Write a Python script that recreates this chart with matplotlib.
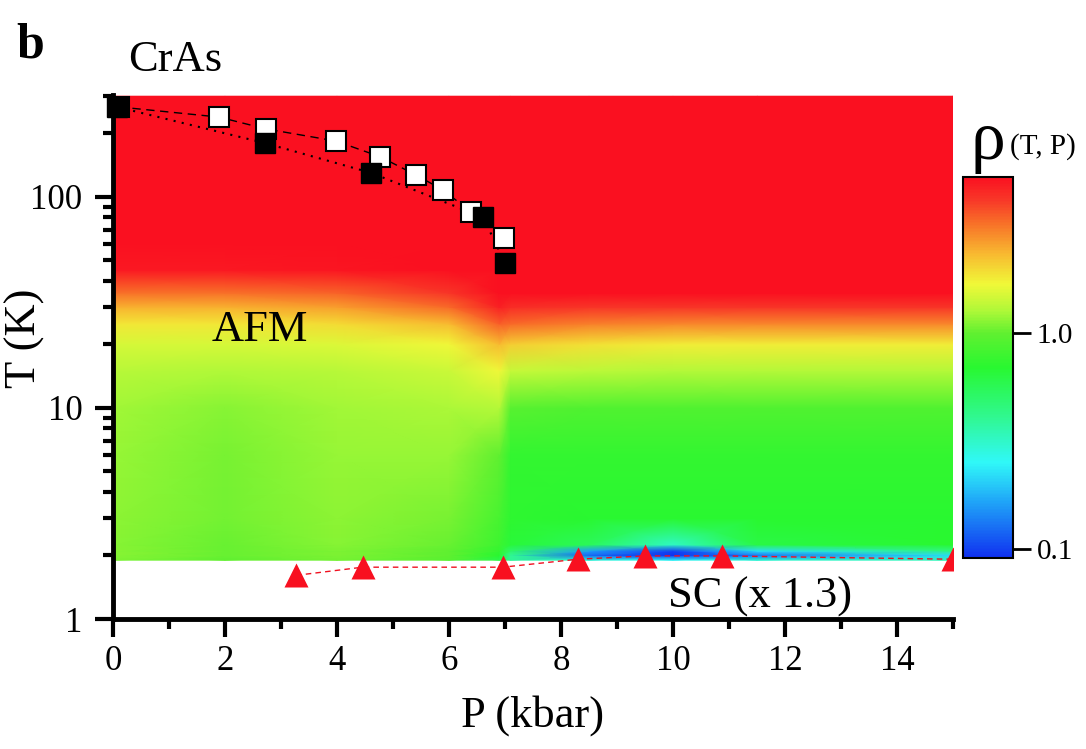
import numpy as np
import matplotlib
matplotlib.use('Agg')
import matplotlib.pyplot as plt
from matplotlib.colors import LinearSegmentedColormap, LogNorm
from matplotlib.ticker import LogLocator, NullFormatter, FixedLocator, MultipleLocator

plt.rcParams['font.family'] = ['Liberation Serif', 'DejaVu Serif']

# resistivity map rho(T, P)
P_grid = [0, 2, 4, 6, 6.9, 7.1, 8.5, 10, 11.5, 15]
T_grid = [1.9, 2.0, 2.1, 2.25, 3, 6, 10, 15, 20, 25, 30, 35, 45, 60, 300]
rho = [
    [1.10, 1.00, 1.05, 0.95, 0.60, 0.40, 0.30, 0.25, 0.30, 0.35],
    [1.12, 1.02, 1.10, 1.00, 0.70, 0.40, 0.12, 0.09, 0.13, 0.22],
    [1.12, 1.02, 1.10, 1.00, 0.75, 0.50, 0.16, 0.10, 0.22, 0.45],
    [1.12, 1.02, 1.12, 1.02, 0.80, 0.66, 0.55, 0.32, 0.62, 0.70],
    [1.15, 1.05, 1.15, 1.08, 0.85, 0.72, 0.70, 0.70, 0.70, 0.70],
    [1.18, 1.08, 1.18, 1.18, 1.00, 0.75, 0.75, 0.75, 0.75, 0.75],
    [1.22, 1.12, 1.22, 1.25, 1.30, 0.95, 0.90, 0.90, 0.90, 0.90],
    [1.32, 1.28, 1.32, 1.42, 1.70, 1.40, 1.35, 1.30, 1.30, 1.30],
    [1.50, 1.50, 1.55, 1.70, 2.30, 2.10, 1.90, 1.80, 1.80, 1.80],
    [1.85, 1.85, 1.95, 2.30, 3.50, 3.30, 3.00, 2.90, 2.90, 2.90],
    [2.40, 2.40, 2.60, 3.30, 4.80, 4.40, 4.20, 4.20, 4.20, 4.20],
    [3.20, 3.20, 3.40, 4.20, 5.30, 5.30, 5.30, 5.30, 5.30, 5.30],
    [5.00, 5.00, 5.10, 5.30, 5.30, 5.30, 5.30, 5.30, 5.30, 5.30],
    [5.30, 5.30, 5.30, 5.30, 5.30, 5.30, 5.30, 5.30, 5.30, 5.30],
    [5.30, 5.30, 5.30, 5.30, 5.30, 5.30, 5.30, 5.30, 5.30, 5.30],
]

# transition points
P_open = [0.1, 1.89, 2.73, 3.98, 4.77, 5.41, 5.89, 6.39, 6.98]
T_open = [267, 239, 210, 184, 155, 127, 108, 85, 64]
P_full = [0.07, 2.71, 4.61, 6.61, 7.0]
T_full = [267, 180, 130, 80, 48.7]
P_sc = [3.27, 4.46, 6.96, 8.30, 9.5, 10.88, 15.0]
T_sc = [1.61, 1.76, 1.76, 1.92, 1.99, 1.99, 1.92]

cmap = LinearSegmentedColormap.from_list('rainbow_rho', [
    (0.00, '#1030f0'), (0.15, '#20a8f8'), (0.25, '#30f8f8'), (0.37, '#30f890'),
    (0.50, '#28f830'), (0.59, '#60f030'), (0.65, '#b0f838'), (0.72, '#f0f838'),
    (0.80, '#f8b830'), (0.88, '#f87028'), (0.94, '#f83828'), (1.00, '#fa1020')])
norm = LogNorm(vmin=0.091, vmax=5.3)

fig = plt.figure(figsize=(10.86, 7.49), dpi=100)
ax = fig.add_axes([113/1086, 1-619/749, 840/1086, (619-95)/749])

mesh = ax.pcolormesh(P_grid, T_grid, np.array(rho), shading='gouraud', cmap=cmap, norm=norm, zorder=1)

ax.plot(P_open, T_open, ls=(0, (6, 4)), color='k', lw=1.0, zorder=2)
ax.plot(P_full, T_full, ls=(0, (1, 3)), color='k', lw=1.5, zorder=2)
ax.plot(P_open, T_open, 's', ms=15, mfc='white', mec='k', mew=1.5, zorder=3, clip_on=False)
ax.plot(P_full, T_full, 's', ms=15, mfc='k', mec='k', mew=1.0, zorder=4, clip_on=False)
ax.plot(P_sc, T_sc, ls=(0, (4, 3)), color='#f01020', lw=1.0, zorder=2)
ax.plot(P_sc, T_sc, '^', ms=17, color='#f81020', mec='none', zorder=3)

ax.set_yscale('log')
ax.set_xlim(0, 15)
ax.set_ylim(1, 304)
ax.spines['top'].set_visible(False)
ax.spines['right'].set_visible(False)
ax.spines['left'].set_linewidth(3.5)
ax.spines['bottom'].set_linewidth(3.5)
ax.spines['left'].set_zorder(5)
ax.spines['bottom'].set_zorder(5)

ax.xaxis.set_major_locator(MultipleLocator(2))
ax.xaxis.set_minor_locator(MultipleLocator(1))
ax.yaxis.set_major_locator(FixedLocator([1, 10, 100]))
ax.set_yticklabels(['1', '10', '100'])
ax.yaxis.set_minor_locator(LogLocator(base=10, subs=np.arange(2, 10)))
ax.yaxis.set_minor_formatter(NullFormatter())
ax.tick_params(which='major', direction='out', length=13, width=3, labelsize=25)
ax.tick_params(axis='x', which='major', pad=6)
ax.tick_params(axis='y', which='major', pad=9)
ax.tick_params(which='minor', direction='out', length=7, width=3)

ax.set_xlabel('P (kbar)', fontsize=32, labelpad=12)
ax.set_ylabel('T (K)', fontsize=32)
ax.yaxis.set_label_coords(-0.081, 0.536)

ax.text(2.62, 23.5, 'AFM', fontsize=32, ha='center', va='center')
ax.text(11.55, 1.28, 'SC (x 1.3)', fontsize=32, ha='center', va='center')
fig.text(175/1086, 1-60/749, 'CrAs', fontsize=32, ha='center', va='center')
fig.text(30/1086, 1-45/749, 'b', fontsize=36, fontweight='bold', ha='center', va='center')

cax = fig.add_axes([963/1086, 1-558/749, 50/1086, (558-177)/749])
cb = fig.colorbar(mesh, cax=cax)
cb.outline.set_linewidth(1.5)
cb.set_ticks([0.1, 1.0])
cb.set_ticklabels(['0.1', '1.0'])
cb.minorticks_off()
cax.tick_params(length=13, width=2, labelsize=21, pad=4)
fig.text(988/1086, 1-142/749, 'ρ', fontsize=50, ha='center', va='center')
fig.text(1043/1086, 1-147/749, '(T, P)', fontsize=21, ha='center', va='center')

fig.savefig('out.png', dpi=100)
